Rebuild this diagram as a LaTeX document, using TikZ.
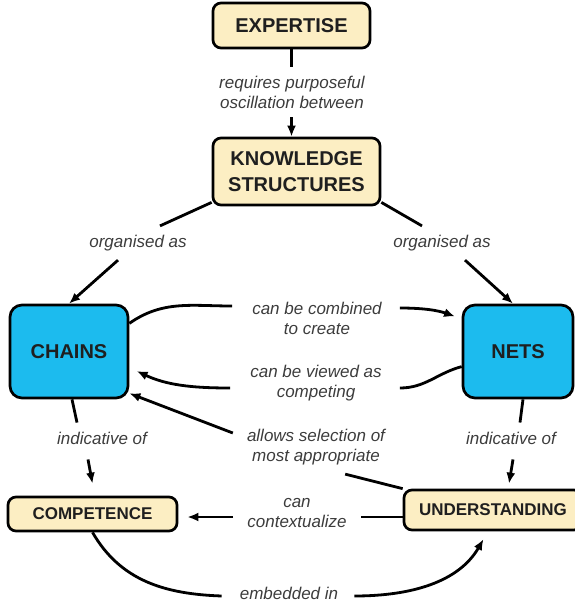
\documentclass[tikz,border=0pt]{standalone}
\usepackage{fontspec}
\setmainfont{Liberation Sans}
\usetikzlibrary{arrows.meta}
\definecolor{ConceptCream}{RGB}{252,238,195}
\definecolor{ConceptBlue}{RGB}{28,187,238}
\definecolor{PhraseGray}{RGB}{60,60,60}
\tikzset{
  concept/.style={draw=black,line width=2.7pt,fill=ConceptCream,rounded corners=8pt,
    inner sep=0pt,align=center,text=black!88,font=\fontsize{20}{26}\selectfont\bfseries},
  core/.style={concept,fill=ConceptBlue,rounded corners=12pt},
  smallconcept/.style={concept,font=\fontsize{17}{20}\selectfont\bfseries},
  phrase/.style={align=center,text=PhraseGray,inner xsep=14pt,inner ysep=9pt,
    font=\fontsize{17}{20}\selectfont\itshape},
  link/.style={draw=black,line width=2.8pt},
  arr/.style={link,-{Latex[length=11pt,width=9pt]}},
}

\begin{document}
\begin{tikzpicture}[x=1pt,y=1pt]
\useasboundingbox (0,0) rectangle (575,-603);
\node[concept,minimum width=157pt,minimum height=45pt] (exp) at (291.5,-25.5) {EXPERTISE};
\node[concept,minimum width=167pt,minimum height=67pt] (ks) at (296.5,-171.5) {KNOWLEDGE\\STRUCTURES};
\node[core,minimum width=118pt,minimum height=93pt] (chains) at (69,-351.5) {CHAINS};
\node[core,minimum width=110pt,minimum height=93pt] (nets) at (518,-351.5) {NETS};
\node[smallconcept,minimum width=169pt,minimum height=34pt] (comp) at (92.5,-514) {COMPETENCE};
\node[smallconcept,minimum width=178pt,minimum height=40pt] (und) at (493,-510) {UNDERSTANDING};

\node[phrase] (req) at (292,-92) {requires purposeful\\oscillation between};
\node[phrase] (orgL) at (138,-243) {organised as};
\node[phrase] (orgR) at (442,-243) {organised as};
\node[phrase] (comb) at (317,-318) {can be combined\\to create};
\node[phrase] (view) at (316,-383) {can be viewed as\\competing};
\node[phrase] (allow) at (316,-447) {allows selection of\\most appropriate};
\node[phrase] (indL) at (102,-438) {indicative of};
\node[phrase] (indR) at (511,-438) {indicative of};
\node[phrase] (ctx) at (297,-513) {can\\contextualize};
\node[phrase] (emb) at (289,-593) {embedded in};

\draw[link] (exp.south) -- (exp.south |- req.north);
\draw[arr] (req.south -| exp.south) -- (exp.south |- ks.north);

\draw[link] (ks.-160) -- ([xshift=22pt]orgL.north);
\draw[arr] ([xshift=-20pt]orgL.south) -- (chains.north);
\draw[link] (ks.-20) -- ([xshift=-20pt]orgR.north);
\draw[arr] ([xshift=23pt]orgR.south) -- ([xshift=-5pt]nets.north);

\draw[link] (chains.25) to[out=35,in=180] ([xshift=-6pt,yshift=12pt]comb.west);
\draw[arr,shorten >=7pt] ([xshift=4pt,yshift=10pt]comb.east) to[out=0,in=160] (nets.150);
\draw[link] (nets.-165) to[out=195,in=0] ([xshift=4pt,yshift=-5pt]view.east);
\draw[arr,shorten >=8pt] ([xshift=-6pt,yshift=-5pt]view.west) to[out=180,in=-25] (chains.-15);

\draw[arr] ([yshift=14pt]allow.west) -- ([yshift=6pt]chains.south east);
\draw[link] ([xshift=-54pt]allow.south east) -- (und.north west);

\draw[link] ([xshift=3pt]chains.south) -- ([xshift=-25pt]indL.north);
\draw[arr] ([xshift=-14pt,yshift=-6pt]indL.south) -- ([yshift=12pt]comp.north);
\draw[link] ([xshift=5pt]nets.south) -- ([xshift=9pt]indR.north);
\draw[arr] ([xshift=2pt,yshift=-6pt]indR.south) -- ([xshift=16pt,yshift=5pt]und.north);

\draw[link] ([yshift=-7pt]und.west) -- ([yshift=-7pt]und.west -| ctx.east);
\draw[arr,shorten >=9pt] ([yshift=-4pt]ctx.west) -- ([yshift=-3pt]comp.east);

\draw[link] (comp.south) to[out=-60,in=178] ([xshift=-4pt,yshift=-3pt]emb.west);
\draw[arr,shorten >=9pt] ([xshift=2pt,yshift=-3pt]emb.east) to[out=0,in=-120] ([xshift=-5pt]und.south);
\end{tikzpicture}
\end{document}
